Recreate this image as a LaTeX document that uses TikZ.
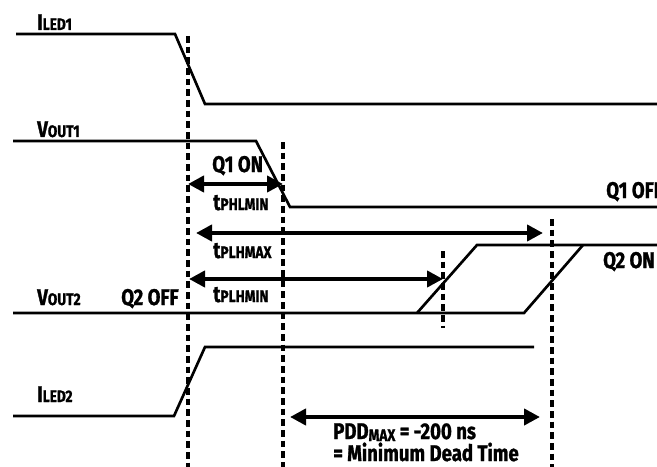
\documentclass[tikz,border=0pt]{standalone}
\usepackage{fontspec}
\setmainfont{Fira Sans}[FakeStretch=0.82, BoldFeatures={FakeBold=1.2}]
\usetikzlibrary{arrows.meta}

\newcommand\subtxt[1]{{\fontsize{12.5}{12.5}\selectfont #1}}
\newcommand\lowtxt[1]{\raisebox{-1.5pt}{\subtxt{#1}}}

\tikzset{
  sig/.style={line width=2pt, line join=miter},
  guide/.style={line width=2.3pt, dash pattern=on 5pt off 3pt},
  span/.style={line width=3pt, {Triangle[length=12pt,width=12pt]}-{Triangle[length=12pt,width=12pt]}},
  lbl/.style={anchor=base west, inner sep=0pt}
}

\begin{document}
\begin{tikzpicture}[x=0.75pt, y=-0.75pt, font=\bfseries\fontsize{17}{19}\selectfont]
    \useasboundingbox (0,0) rectangle (657,467);

    % Vertikalios laiko linijos
    \coordinate (D1t) at (188,36);   \coordinate (D1b) at (188,467);
    \coordinate (D2t) at (283,142);  \coordinate (D2b) at (283,467);
    \coordinate (D3t) at (552,219);  \coordinate (D3b) at (552,467);
    \coordinate (D4t) at (443,251);  \coordinate (D4b) at (443,328);
    \foreach \d in {D1,D2,D3,D4} {
        \draw[guide] (\d t) -- (\d b);
    }

    % Signalai
    \draw[sig] (16,34) -- (175,34) -- (205,104) -- (657,104);
    \draw[sig] (13,141) -- (256,141) -- (290,207) -- (657,207);
    \draw[sig] (13,313) -- (524,313) -- (583,245);
    \draw[sig] (417,313) -- (477,245) -- (657,245);
    \draw[sig] (13,416) -- (174,416) -- (205,347) -- (534,347);

    % Rodyklės
    \coordinate (A1) at (188,184);  \coordinate (B1) at (283,184);
    \coordinate (A2) at (196,233);  \coordinate (B2) at (543,233);
    \coordinate (A3) at (189,279);  \coordinate (B3) at (443,279);
    \coordinate (A4) at (290,417);  \coordinate (B4) at (540,417);
    \foreach \i in {1,...,4} {
        \draw[span] (A\i) -- (B\i);
    }

    % Užrašai
    \node[lbl] (iled1) at (37,30)  {I\subtxt{LED1}};
    \node[lbl] (vout1) at (37,137) {V\subtxt{OUT1}};
    \node[lbl] (vout2) at (37,305) {V\subtxt{OUT2}};
    \node[lbl] (iled2) at (37,402) {I\subtxt{LED2}};
    \node[lbl] (q1on)  at (212,172) {Q1 ON};
    \node[lbl] (q1off) at (606,198) {Q1 OFF};
    \node[lbl, anchor=base east] (q2on) at (655,268) {Q2 ON};
    \node[lbl] (q2off) at (121,305) {Q2 OFF};
    \node[lbl] (tphl)  at (213,210) {t\subtxt{PHLMIN}};
    \node[lbl] (tplhx) at (213,258) {t\subtxt{PLHMAX}};
    \node[lbl] (tplhn) at (213,302) {t\subtxt{PLHMIN}};
    \node[lbl] (pdd)   at (333,439) {PDD\lowtxt{MAX} = -200 ns};
    \node[lbl] (dead)  at (333,461) {= Minimum Dead Time};
\end{tikzpicture}
\end{document}
